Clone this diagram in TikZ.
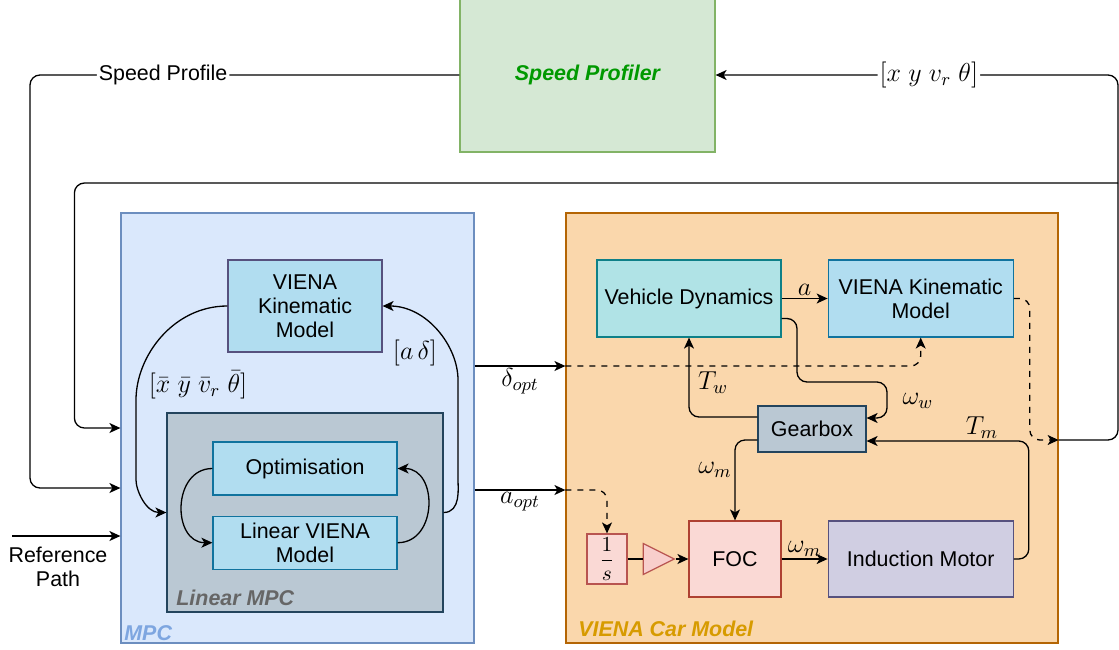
\RequirePackage{fix-cm}
\documentclass[tikz,border=0pt]{standalone}
\usepackage[no-math]{fontspec}
\setmainfont{Liberation Sans}
\usetikzlibrary{positioning, shapes.geometric, arrows.meta}

\definecolor{profilerfill}{HTML}{D5E8D4}
\definecolor{profilerdraw}{HTML}{82B366}
\definecolor{profilertext}{HTML}{009900}
\definecolor{mpcfill}{HTML}{DAE8FC}
\definecolor{mpcdraw}{HTML}{6C8EBF}
\definecolor{mpctext}{HTML}{7EA6E0}
\definecolor{linfill}{HTML}{BAC8D3}
\definecolor{lindraw}{HTML}{23445D}
\definecolor{lintext}{HTML}{666666}
\definecolor{kinfill}{HTML}{B1DDF0}
\definecolor{kindraw}{HTML}{10739E}
\definecolor{carfill}{HTML}{FAD7AC}
\definecolor{cardraw}{HTML}{B46504}
\definecolor{cartext}{HTML}{D79B00}
\definecolor{dynfill}{HTML}{B0E3E6}
\definecolor{dyndraw}{HTML}{0E8088}
\definecolor{focfill}{HTML}{FAD9D5}
\definecolor{focdraw}{HTML}{AE4132}
\definecolor{motorfill}{HTML}{D0CEE2}
\definecolor{motordraw}{HTML}{56517E}
\definecolor{gainfill}{HTML}{F8CECC}
\definecolor{gaindraw}{HTML}{B85450}

\begin{document}
\begin{tikzpicture}[
        x=0.5pt, y=-0.5pt,
        font=\fontsize{10.7}{12}\selectfont,
        block/.style={
                rectangle,
                align=center,
                inner sep=2pt,
                line width=0.6pt
            },
        bluebox/.style={block, fill=kinfill, draw=kindraw},
        group/.style={rectangle, line width=0.6pt, inner sep=0pt},
        grouplabel/.style={font=\bfseries\itshape\fontsize{10.7}{12}\selectfont, anchor=south west, inner sep=0pt},
        signal/.style={font=\fontsize{13}{15}\selectfont, inner sep=1pt},
        wire/.style={line width=0.65pt, rounded corners=5pt},
        link/.style={wire, ->},
        >={Stealth[length=5.5pt, width=5pt, inset=1.5pt]}
    ]
    \useasboundingbox (0,0) rectangle (1119,649);

    % speed profiler on top
    \node[group, fill=profilerfill, draw=profilerdraw, minimum width=127.5pt, minimum height=77pt,
        text=profilertext, font=\bfseries\itshape\fontsize{10.7}{12}\selectfont] (profiler) at (587.5,75) {Speed Profiler};

    % MPC side
    \node[group, fill=mpcfill, draw=mpcdraw, minimum width=176.5pt, minimum height=215pt] (mpc) at (297.5,428) {};
    \node[group, fill=linfill, draw=lindraw, minimum width=138pt, minimum height=99.5pt] (linmpc) at (305,512.5) {};
    \node[block, fill=kinfill, draw=motordraw, minimum width=77pt, minimum height=46pt] (mpckin) at (305,306) {VIENA\\Kinematic\\Model};
    \node[bluebox, minimum width=92pt, minimum height=26.5pt] (optim) at (305,468.5) {Optimisation};
    \node[bluebox, minimum width=92pt, minimum height=26.5pt, below=10pt of optim] (linmodel) {Linear VIENA\\Model};
    \node[grouplabel, text=mpctext] (mpclabel) at (124,641) {MPC};
    \node[grouplabel, text=lintext] (linmpclabel) at (176,606) {Linear MPC};

    % car model side
    \node[group, fill=carfill, draw=cardraw, minimum width=246pt, minimum height=215pt] (car) at (812,428) {};
    \node[block, fill=dynfill, draw=dyndraw, minimum width=92pt, minimum height=38.5pt] (vehdyn) at (689,298.5) {Vehicle Dynamics};
    \node[bluebox, minimum width=92.5pt, minimum height=38.5pt, right=23pt of vehdyn] (carkin) {VIENA Kinematic\\Model};
    \node[block, fill=linfill, draw=lindraw, minimum width=54pt, minimum height=23pt] (gearbox) at (812,429) {Gearbox};
    \node[block, fill=focfill, draw=focdraw, minimum width=46pt, minimum height=38pt] (foc) at (735,559) {FOC};
    \node[block, fill=motorfill, draw=motordraw, minimum width=92.5pt, minimum height=38pt, right=23pt of foc] (motor) {Induction Motor};
    \node[block, fill=focfill, draw=gaindraw, minimum width=20pt, minimum height=25pt, inner sep=0pt] (integ) at (607,559) {$\displaystyle\frac{1}{s}$};
    \node[isosceles triangle, isosceles triangle stretches, fill=gainfill, draw=gaindraw, line width=0.6pt,
        minimum width=15.5pt, minimum height=15.5pt, inner sep=0pt, right=7.5pt of integ] (gain) {};
    \node[grouplabel, text=cartext] (carlabel) at (578,637) {VIENA Car Model};

    \coordinate (carout) at ([yshift=-6pt]car.east);
    \coordinate (fbk) at (1118,183);
    \coordinate (fbktop) at (1118,75);
    \coordinate (refin) at (12,536);

    % outer loops
    \draw[link] (profiler.west) -- node[pos=0.69, fill=white, inner sep=1pt] (splabel) {Speed Profile} (30,75) |- ([yshift=-30pt]mpc.west);
    \draw[wire] (carout) -| (fbk);
    \draw[link] (fbk) -- (fbktop) -- node[pos=0.47, fill=white, inner sep=1pt, signal] (statelabel) {$[x\ y\ v_r\ \theta]$} (profiler.east);
    \draw[link] (fbk) -| ([xshift=-23pt]mpc.west) -- (mpc.west);
    \draw[link] (refin) -- ([yshift=-54pt]mpc.west);
    \node[align=center] (refpath) at (58,567) {Reference\\Path};

    % inside the MPC
    \draw[link] (mpckin.west) to[out=180, in=90] (136,410) -- (136,470) to[out=-90, in=180] (linmpc.west);
    \draw[link] (linmpc.east) to[out=0, in=-90] (458,470) -- (458,390) to[out=90, in=0] (mpckin.east);
    \draw[link] (optim.west) to[out=180, in=180, looseness=1.4] (linmodel.west);
    \draw[link] (linmodel.east) to[out=0, in=0, looseness=1.4] (optim.east);
    \node[signal] (xbar) at (198,385) {$[\bar{x}\ \bar{y}\ \bar{v}_r\ \bar{\theta}]$};
    \node[signal] (adelta) at (415,353) {$[a\,\delta]$};

    % MPC outputs
    \draw[link] ([yshift=31pt]mpc.east) -- node[signal, below] (dopt) {$\delta_{opt}$} ([yshift=31pt]car.west);
    \draw[link] ([yshift=-31pt]mpc.east) -- node[signal, below] (aopt) {$a_{opt}$} ([yshift=-31pt]car.west);
    \draw[link, dashed] ([yshift=31pt]car.west) -| (carkin.south);
    \draw[link, dashed] ([yshift=-31pt]car.west) -| (integ.north);

    % inside the car model
    \draw[link] (vehdyn.east) -- node[signal, above] (alabel) {$a$} (carkin.west);
    \draw[link] ([yshift=-10pt]vehdyn.east) -| (797,382) -| (887,418) -- ([yshift=5.5pt]gearbox.east);
    \draw[link] ([yshift=6pt]gearbox.west) -| (vehdyn.south);
    \draw[link] ([yshift=-5.5pt]gearbox.west) -| (foc.north);
    \draw[wire] (integ.east) -- (gain.west);
    \draw[link] (gain.east) -- (foc.west);
    \draw[link] (foc.east) -- node[signal, above] (wmlabel) {$\omega_m$} (motor.west);
    \draw[link] (motor.east) -- ++(15,0) |- ([yshift=-6pt]gearbox.east);
    \draw[link, dashed] (carkin.east) -- ++(16,0) |- (carout);
    \node[signal] (twlabel) at (713,383) {$T_w$};
    \node[signal] (wwlabel) at (918,401) {$\omega_w$};
    \node[signal] (wmgear) at (715,470) {$\omega_m$};
    \node[signal] (tmlabel) at (982,428) {$T_m$};
\end{tikzpicture}
\end{document}
